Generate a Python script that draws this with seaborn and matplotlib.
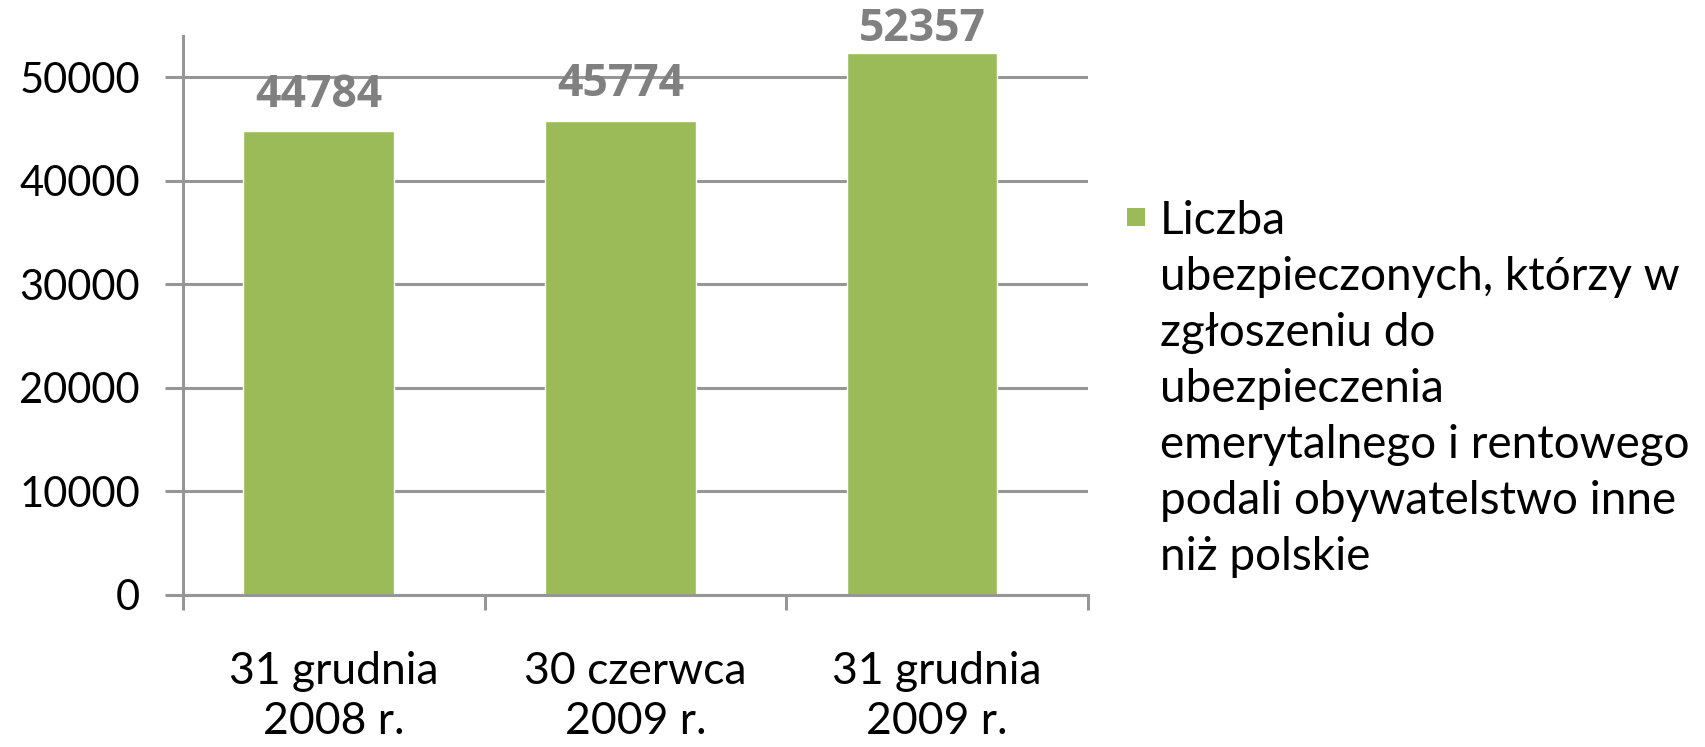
import matplotlib
matplotlib.use("Agg")
import matplotlib.pyplot as plt
import seaborn as sns
import pandas as pd
from matplotlib.patches import Rectangle

# dane z wykresu
daty = ["31 grudnia\n2008 r.", "30 czerwca\n2009 r.", "31 grudnia\n2009 r."]
liczba = [44784, 45774, 52357]
etykieta = ("Liczba\nubezpieczonych, którzy w\nzgłoszeniu do\nubezpieczenia\n"
            "emerytalnego i rentowego\npodali obywatelstwo inne\nniż polskie")
y_ticks = [0, 10000, 20000, 30000, 40000, 50000]

zielony = "#9BBB59"
szary = "#969696"

sns.set_theme(style="white")
plt.rcParams['font.family'] = ['Lato', 'DejaVu Sans']

df = pd.DataFrame({"data": daty, "liczba": liczba})

fig = plt.figure(figsize=(17.06, 7.47), dpi=100)
ax = fig.add_axes([0.1073, 0.2035, 0.5304, 0.7483])

sns.barplot(data=df, x="data", y="liczba", color=zielony, width=0.5,
            saturation=1, ax=ax)

# słupki w Excelu są lekko przesunięte w lewo
for p in ax.patches:
    p.set_x(p.get_x() - 0.05)

ax.set_ylim(0, 54000)
ax.set_xlim(-0.5, 2.5)
ax.set_yticks(y_ticks)
ax.yaxis.grid(True, color=szary, linewidth=2.2)
ax.set_axisbelow(True)
ax.set_xlabel("")
ax.set_ylabel("")

for s in ["top", "right"]:
    ax.spines[s].set_visible(False)
for s in ["left", "bottom"]:
    ax.spines[s].set_color(szary)
    ax.spines[s].set_linewidth(2.2)

ax.tick_params(axis="y", length=13, width=2.2, color=szary, pad=18,
               labelsize=30, labelcolor="black", left=True)
ax.tick_params(axis="x", which="major", length=0, pad=40, labelsize=32,
               labelcolor="black")
ax.set_xticks([-0.5, 0.5, 1.5, 2.5], minor=True)
ax.tick_params(axis="x", which="minor", length=11, width=2.2, color=szary,
               bottom=True)
for t in ax.get_xticklabels():
    t.set_linespacing(1.3)

etyk = ax.bar_label(ax.containers[0], fmt="%d", padding=10, fontsize=32,
                    fontweight="bold", family=["Open Sans", "DejaVu Sans"],
                    color="#808080")
# najwyższa etykieta bliżej słupka, żeby zmieściła się w obrazku
etyk[-1].xyann = (0, 1)

# legenda
fig.patches.append(Rectangle((1127 / 1706, 1 - 226 / 747), 18 / 1706, 18 / 747,
                             transform=fig.transFigure, facecolor=zielony,
                             edgecolor="none"))
fig.text(1160 / 1706, 1 - 200 / 747, etykieta, fontsize=33, va="top",
         ha="left", linespacing=1.41, color="black")

fig.savefig("out.png", dpi=100)
